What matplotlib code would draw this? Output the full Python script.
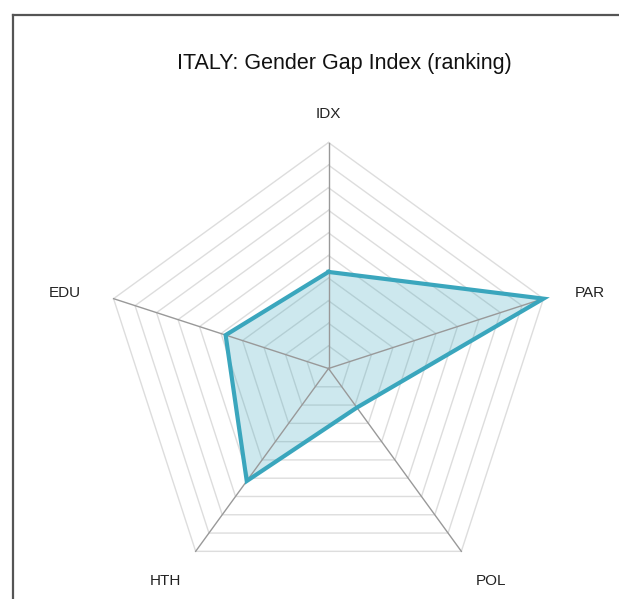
import numpy as np
import matplotlib
matplotlib.use('Agg')
import matplotlib.pyplot as plt
from matplotlib.lines import Line2D

plt.rcParams['font.family'] = ['Liberation Sans', 'DejaVu Sans']

# Italy, Global Gender Gap ranking
labels = ['IDX', 'PAR', 'POL', 'HTH', 'EDU']
ranks = [50, 117, 25, 72, 56]
rmax = 117
nrings = 10

W, H = 619, 599
fig = plt.figure(figsize=(W / 100, H / 100), dpi=100)
ax = fig.add_axes([0, 0, 1, 1])
ax.set_xlim(0, W)
ax.set_ylim(H, 0)
ax.axis('off')

cx, cy, R = 328.5, 368.5, 226
ang = np.deg2rad(90 - 72 * np.arange(len(labels)))


def pts(frac):
    frac = np.asarray(frac, dtype=float)
    x = cx + R * frac * np.cos(ang)
    y = cy - R * frac * np.sin(ang)
    return np.append(x, x[0]), np.append(y, y[0])


# frame of the container (left and top only)
ax.add_line(Line2D([12.5, 12.5], [15, H], color='#555555', lw=1.6))
ax.add_line(Line2D([12.5, W], [15, 15], color='#555555', lw=1.6))

# rings
for i in range(1, nrings + 1):
    x, y = pts(np.full(len(labels), i / nrings))
    ax.plot(x, y, color='#dddddd', lw=1, zorder=1)

# data
vals = np.array(ranks) / rmax
x, y = pts(vals)
ax.fill(x, y, color='#3aa6bd', alpha=0.25, lw=0, zorder=2)

# spokes
for a in ang:
    ax.plot([cx, cx + R * np.cos(a)], [cy, cy - R * np.sin(a)],
            color='#999999', lw=1, zorder=3)

ax.plot(x, y, color='#3aa6bd', lw=3, solid_joinstyle='miter', zorder=4)

# labels
lab_pos = [(328, 118), (590, 297), (491, 585), (165, 585), (65, 297)]
for lab, (lx, ly) in zip(labels, lab_pos):
    ax.text(lx, ly, lab, ha='center', va='baseline', fontsize=11, color='#222222')

ax.text(344, 68.5, 'ITALY: Gender Gap Index (ranking)', ha='center', va='baseline',
        fontsize=15.5, color='#111111')

fig.savefig('out.png', dpi=100)
